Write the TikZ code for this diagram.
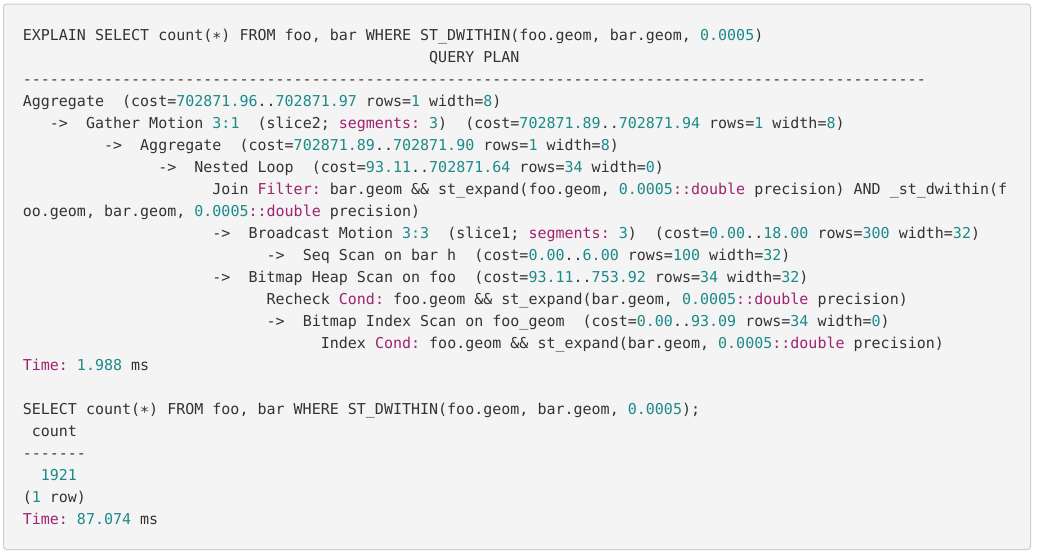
\documentclass[tikz,border=0pt]{standalone}
\usepackage{fontspec}
\setmonofont{DejaVu Sans Mono}
\definecolor{codetext}{HTML}{333333}
\definecolor{numteal}{HTML}{1D8A8A}
\definecolor{keymag}{HTML}{9D2470}
\definecolor{boxfill}{HTML}{F4F4F4}
\definecolor{boxline}{HTML}{CDCDCD}
\newcommand{\Nm}[1]{\textcolor{numteal}{#1}}
\newcommand{\Kw}[1]{\textcolor{keymag}{#1}}
\begin{document}
\begin{tikzpicture}[x=1pt,y=-1pt,
  codeline/.style={anchor=base west, inner sep=0pt, outer sep=0pt, text=codetext,
    font=\ttfamily\fontsize{15}{22}\selectfont\frenchspacing}]
\useasboundingbox (0,0) rectangle (1038,557);
\fill[white] (0,0) rectangle (1038,557);
\draw[boxline, fill=boxfill, line width=1pt, rounded corners=3pt] (3.5,4) rectangle (1030.5,549.5);
\def\xo{22.8}
\def\cw{9.031}
\def\lp{22}
\def\yo{40}
\node[codeline] (l0) at ({\xo+0*\cw},{\yo+0*\lp}) {EXPLAIN SELECT count(∗) FROM foo, bar WHERE ST\_DWITHIN(foo.geom, bar.geom, \Nm{0.0005})};
\node[codeline] (l1) at ({\xo+45*\cw},{\yo+1*\lp}) {QUERY PLAN};
\node[codeline] (l2) at ({\xo+0*\cw},{\yo+2*\lp}) {----------------------------------------------------------------------------------------------------};
\node[codeline] (l3) at ({\xo+0*\cw},{\yo+3*\lp}) {Aggregate~~(cost=\Nm{702871.96}..\Nm{702871.97} rows=\Nm{1} width=\Nm{8})};
\node[codeline] (l4) at ({\xo+3*\cw},{\yo+4*\lp}) {->~~Gather Motion \Nm{3:1}~~(slice2; \Kw{segments:} \Nm{3})~~(cost=\Nm{702871.89}..\Nm{702871.94} rows=\Nm{1} width=\Nm{8})};
\node[codeline] (l5) at ({\xo+9*\cw},{\yo+5*\lp}) {->~~Aggregate~~(cost=\Nm{702871.89}..\Nm{702871.90} rows=\Nm{1} width=\Nm{8})};
\node[codeline] (l6) at ({\xo+15*\cw},{\yo+6*\lp}) {->~~Nested Loop~~(cost=\Nm{93.11}..\Nm{702871.64} rows=\Nm{34} width=\Nm{0})};
\node[codeline] (l7) at ({\xo+21*\cw},{\yo+7*\lp}) {Join \Kw{Filter:} bar.geom \&\& st\_expand(foo.geom, \Nm{0.0005}\Kw{::double} precision) AND \_st\_dwithin(f};
\node[codeline] (l8) at ({\xo+0*\cw},{\yo+8*\lp}) {oo.geom, bar.geom, \Nm{0.0005}\Kw{::double} precision)};
\node[codeline] (l9) at ({\xo+21*\cw},{\yo+9*\lp}) {->~~Broadcast Motion \Nm{3:3}~~(slice1; \Kw{segments:} \Nm{3})~~(cost=\Nm{0.00}..\Nm{18.00} rows=\Nm{300} width=\Nm{32})};
\node[codeline] (l10) at ({\xo+27*\cw},{\yo+10*\lp}) {->~~Seq Scan on bar h~~(cost=\Nm{0.00}..\Nm{6.00} rows=\Nm{100} width=\Nm{32})};
\node[codeline] (l11) at ({\xo+21*\cw},{\yo+11*\lp}) {->~~Bitmap Heap Scan on foo~~(cost=\Nm{93.11}..\Nm{753.92} rows=\Nm{34} width=\Nm{32})};
\node[codeline] (l12) at ({\xo+27*\cw},{\yo+12*\lp}) {Recheck \Kw{Cond:} foo.geom \&\& st\_expand(bar.geom, \Nm{0.0005}\Kw{::double} precision)};
\node[codeline] (l13) at ({\xo+27*\cw},{\yo+13*\lp}) {->~~Bitmap Index Scan on foo\_geom~~(cost=\Nm{0.00}..\Nm{93.09} rows=\Nm{34} width=\Nm{0})};
\node[codeline] (l14) at ({\xo+33*\cw},{\yo+14*\lp}) {Index \Kw{Cond:} foo.geom \&\& st\_expand(bar.geom, \Nm{0.0005}\Kw{::double} precision)};
\node[codeline] (l15) at ({\xo+0*\cw},{\yo+15*\lp}) {\Kw{Time:} \Nm{1.988} ms};
\node[codeline] (l17) at ({\xo+0*\cw},{\yo+17*\lp}) {SELECT count(∗) FROM foo, bar WHERE ST\_DWITHIN(foo.geom, bar.geom, \Nm{0.0005});};
\node[codeline] (l18) at ({\xo+1*\cw},{\yo+18*\lp}) {count};
\node[codeline] (l19) at ({\xo+0*\cw},{\yo+19*\lp}) {-------};
\node[codeline] (l20) at ({\xo+2*\cw},{\yo+20*\lp}) {\Nm{1921}};
\node[codeline] (l21) at ({\xo+0*\cw},{\yo+21*\lp}) {(\Nm{1} row)};
\node[codeline] (l22) at ({\xo+0*\cw},{\yo+22*\lp}) {\Kw{Time:} \Nm{87.074} ms};
\end{tikzpicture}
\end{document}
